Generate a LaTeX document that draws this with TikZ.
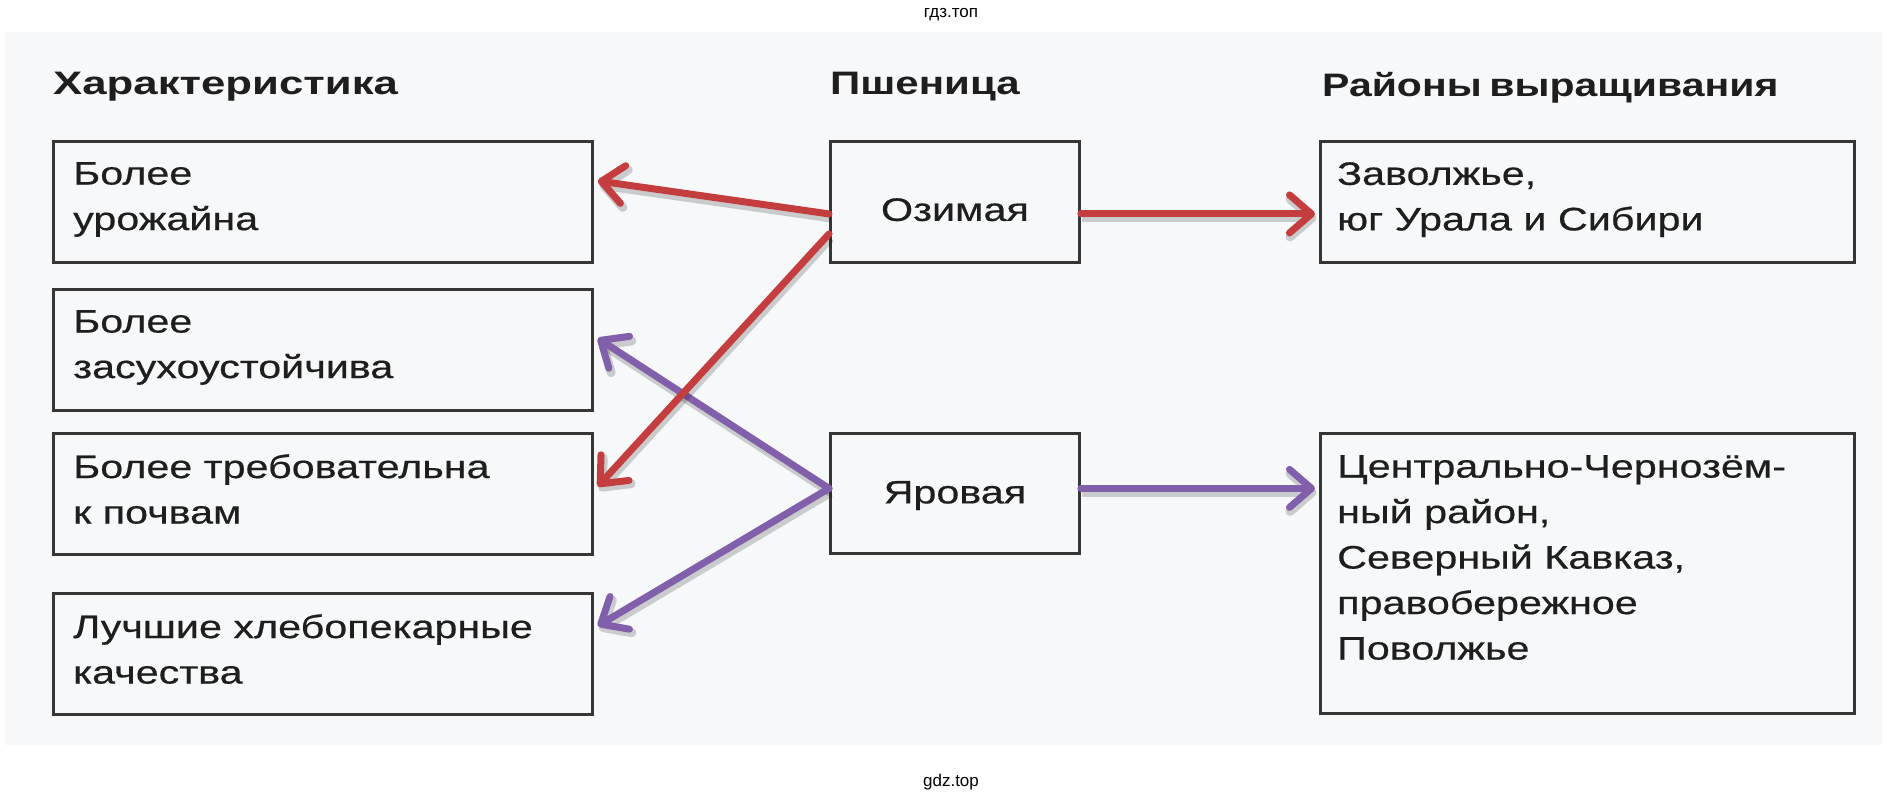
\documentclass[tikz,border=0pt]{standalone}
\usepackage{fontspec}
\usepackage{graphicx}
\setmainfont{Liberation Sans}
\newfontfamily\regf{Liberation Sans}[FakeStretch=1.27,FakeBold=0.5]
\newfontfamily\boldf{Liberation Sans}[FakeStretch=1.32]
\newfontfamily\wmf{Liberation Sans}
\usetikzlibrary{arrows.meta}
\definecolor{redc}{HTML}{C43E40}
\definecolor{purc}{HTML}{825FAB}
\definecolor{boxc}{HTML}{363636}
\definecolor{txtc}{HTML}{1E1E1E}
\definecolor{bgc}{HTML}{F6F8F9}
\begin{document}
\begin{tikzpicture}[x=1pt,y=-1pt,
  box/.style={draw=boxc, line width=2.8pt, inner sep=0pt, anchor=north west},
  lbox/.style={box, minimum width=539pt, minimum height=121pt},
  mbox/.style={box, minimum width=249pt, minimum height=121pt},
  txt/.style={inner sep=0pt, align=left, text=txtc, font=\regf\fontsize{32.5}{45.5}\selectfont},
  hdr/.style={inner sep=0pt, anchor=base west, text=txtc, font=\boldf\bfseries\fontsize{32.5}{40}\selectfont},
  wm/.style={inner sep=0pt, text=black, font=\wmf\fontsize{17}{20}\selectfont},
  arr/.style={line width=7pt, line cap=round, -{Straight Barb[length=22pt,width=38pt,round]},
    preaction={draw=black, opacity=0.18, line width=9pt, transform canvas={xshift=1.5pt,yshift=-4pt}}}
]
\useasboundingbox (0,0) rectangle (1903,802);
\fill[bgc] (5,32) rectangle (1882,745);

% watermarks
\node[wm] (wm1) at (951,15) {гдз.топ};
\node[wm] (wm2) at (951,782) {gdz.top};

% headers
\node[hdr] (h1) at (53,95) {\scalebox{1.02}[1]{Характеристика}};
\node[hdr] (h2) at (830,95) {\scalebox{0.98}[1]{Пшеница}};
\node[hdr] (h3) at (1322,97) {\scalebox{0.955}[1]{Районы\hspace{8pt}выращивания}};

% left boxes
\node[lbox] (l1) at (52,140) {};
\node[lbox] (l2) at (52,288) {};
\node[lbox] (l3) at (52,432) {};
\node[lbox] (l4) at (52,592) {};
\node[txt, anchor=north west] (t1) at (73,162) {Более\\урожайна};
\node[txt, anchor=north west] (t2) at (73,310) {Более\\засухоустойчива};
\node[txt, anchor=north west] (t3) at (73,454) {Более требовательна\\к почвам};
\node[txt, anchor=north west] (t4) at (73,614) {Лучшие хлебопекарные\\качества};

% middle boxes
\node[mbox] (oz) at (829,140) {};
\node[mbox, minimum height=120pt] (yr) at (829,432) {};
\node[txt, anchor=base] (toz) at ([yshift=-19pt]oz.center) {Озимая};
\node[txt, anchor=base] (tyr) at ([yshift=-10pt]yr.center) {Яровая};

% right boxes
\node[box, minimum width=534pt, minimum height=121pt] (r1) at (1319,140) {};
\node[box, minimum width=534pt, minimum height=280pt] (r2) at (1319,432) {};
\node[txt, anchor=north west] (tr1) at (1337,162) {Заволжье,\\юг Урала и Сибири};
\node[txt, anchor=north west] (tr2) at (1337,455) {Центрально-Чернозём-\\ный район,\\Северный Кавказ,\\правобережное\\Поволжье};

% arrows
\draw[arr, purc] ([yshift=5pt]yr.west) -- ([xshift=4pt,yshift=11.5pt]l2.east);
\draw[arr, purc] ([yshift=5pt]yr.west) -- ([xshift=4pt,yshift=28pt]l4.east);
\draw[arr, purc] ([yshift=5pt]yr.east) -- ([xshift=-4pt,yshift=85pt]r2.west);
\draw[arr, redc] ([yshift=-12pt]oz.west) -- ([xshift=4pt,yshift=21pt]l1.east);
\draw[arr, redc] ([yshift=-32pt]oz.west) -- ([xshift=4pt,yshift=7.5pt]l3.east);
\draw[arr, redc] ([yshift=-12pt]oz.east) -- ([xshift=-4pt,yshift=-12pt]r1.west);
\end{tikzpicture}
\end{document}
